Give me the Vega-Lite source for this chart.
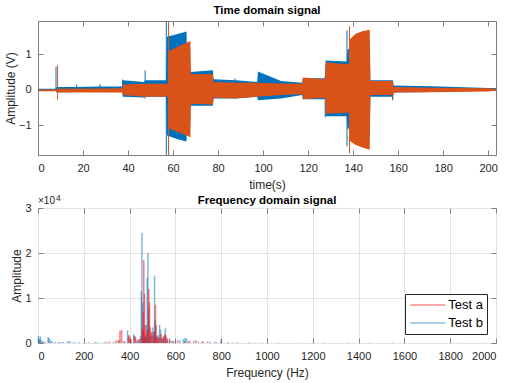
{
  "$schema": "https://vega.github.io/schema/vega-lite/v6.json",
  "padding": {"left": 3, "top": 4, "right": 10, "bottom": 4},
  "spacing": 2,
  "resolve": {"legend": {"color": "independent"}},
  "config": {
    "font": "Liberation Sans",
    "view": {"stroke": "#808080", "strokeWidth": 1},
    "axis": {"domain": false, "grid": false, "labelFontSize": 11, "labelColor": "#262626", "titleFontSize": 12, "titleFontWeight": "normal", "titleColor": "#262626", "tickColor": "#808080", "tickSize": -5, "labelPadding": 12, "titlePadding": 6},
    "axisY": {"titlePadding": 1},
    "title": {"fontSize": 11.5, "fontWeight": "bold", "color": "#000000", "offset": 4, "anchor": "middle"}
  },
  "datasets": {
    "env": [
      {"s": "s1", "t": 0, "hi": 0.03, "lo": -0.01},
      {"s": "s1", "t": 7.8, "hi": 0.03, "lo": -0.01},
      {"s": "s1", "t": 8.1, "hi": 0.08, "lo": -0.07},
      {"s": "s1", "t": 17, "hi": 0.08, "lo": -0.06},
      {"s": "s1", "t": 27, "hi": 0.09, "lo": -0.06},
      {"s": "s1", "t": 37.4, "hi": 0.09, "lo": -0.06},
      {"s": "s1", "t": 37.7, "hi": 0.27, "lo": -0.2},
      {"s": "s1", "t": 47, "hi": 0.22, "lo": -0.22},
      {"s": "s1", "t": 47.7, "hi": 0.27, "lo": -0.2},
      {"s": "s1", "t": 56.9, "hi": 0.27, "lo": -0.2},
      {"s": "s1", "t": 57.3, "hi": 1.5, "lo": -1.3},
      {"s": "s1", "t": 62, "hi": 1.58, "lo": -1.4},
      {"s": "s1", "t": 66, "hi": 1.65, "lo": -1.47},
      {"s": "s1", "t": 66.3, "hi": 0.5, "lo": -0.45},
      {"s": "s1", "t": 77.7, "hi": 0.55, "lo": -0.45},
      {"s": "s1", "t": 78, "hi": 0.3, "lo": -0.25},
      {"s": "s1", "t": 88, "hi": 0.27, "lo": -0.25},
      {"s": "s1", "t": 97.4, "hi": 0.22, "lo": -0.2},
      {"s": "s1", "t": 97.7, "hi": 0.52, "lo": -0.3},
      {"s": "s1", "t": 108, "hi": 0.25, "lo": -0.25},
      {"s": "s1", "t": 117.4, "hi": 0.2, "lo": -0.15},
      {"s": "s1", "t": 117.7, "hi": 0.33, "lo": -0.27},
      {"s": "s1", "t": 127.5, "hi": 0.33, "lo": -0.27},
      {"s": "s1", "t": 127.8, "hi": 0.83, "lo": -0.75},
      {"s": "s1", "t": 137.2, "hi": 0.8, "lo": -0.75},
      {"s": "s1", "t": 137.5, "hi": 1.15, "lo": -1.1},
      {"s": "s1", "t": 147.4, "hi": 1.2, "lo": -1.2},
      {"s": "s1", "t": 147.7, "hi": 0.27, "lo": -0.2},
      {"s": "s1", "t": 157.7, "hi": 0.27, "lo": -0.2},
      {"s": "s1", "t": 158, "hi": 0.12, "lo": -0.08},
      {"s": "s1", "t": 175, "hi": 0.1, "lo": -0.06},
      {"s": "s1", "t": 200, "hi": 0.05, "lo": -0.03},
      {"s": "s1", "t": 203.5, "hi": 0.05, "lo": -0.03},
      {"s": "s2", "t": 0, "hi": 0.01, "lo": -0.04},
      {"s": "s2", "t": 8.5, "hi": 0.01, "lo": -0.04},
      {"s": "s2", "t": 8.8, "hi": 0.03, "lo": -0.08},
      {"s": "s2", "t": 37.4, "hi": 0.04, "lo": -0.08},
      {"s": "s2", "t": 37.7, "hi": 0.15, "lo": -0.15},
      {"s": "s2", "t": 47, "hi": 0.17, "lo": -0.2},
      {"s": "s2", "t": 57.8, "hi": 0.17, "lo": -0.2},
      {"s": "s2", "t": 58.2, "hi": 1.1, "lo": -1.1},
      {"s": "s2", "t": 63, "hi": 1.25, "lo": -1.22},
      {"s": "s2", "t": 67.7, "hi": 1.38, "lo": -1.35},
      {"s": "s2", "t": 68, "hi": 0.44, "lo": -0.4},
      {"s": "s2", "t": 77.7, "hi": 0.45, "lo": -0.42},
      {"s": "s2", "t": 78, "hi": 0.22, "lo": -0.23},
      {"s": "s2", "t": 88, "hi": 0.2, "lo": -0.25},
      {"s": "s2", "t": 97, "hi": 0.2, "lo": -0.2},
      {"s": "s2", "t": 108, "hi": 0.18, "lo": -0.15},
      {"s": "s2", "t": 117.4, "hi": 0.17, "lo": -0.13},
      {"s": "s2", "t": 117.7, "hi": 0.35, "lo": -0.27},
      {"s": "s2", "t": 127.5, "hi": 0.3, "lo": -0.23},
      {"s": "s2", "t": 127.8, "hi": 0.77, "lo": -0.68},
      {"s": "s2", "t": 138.2, "hi": 0.72, "lo": -0.65},
      {"s": "s2", "t": 138.6, "hi": 1.43, "lo": -1.45},
      {"s": "s2", "t": 141, "hi": 1.58, "lo": -1.56},
      {"s": "s2", "t": 144, "hi": 1.66, "lo": -1.64},
      {"s": "s2", "t": 147.4, "hi": 1.7, "lo": -1.7},
      {"s": "s2", "t": 147.7, "hi": 0.25, "lo": -0.15},
      {"s": "s2", "t": 157.7, "hi": 0.25, "lo": -0.15},
      {"s": "s2", "t": 158, "hi": 0.08, "lo": -0.08},
      {"s": "s2", "t": 175, "hi": 0.06, "lo": -0.07},
      {"s": "s2", "t": 200, "hi": 0.04, "lo": -0.05},
      {"s": "s2", "t": 203.5, "hi": 0.03, "lo": -0.02}
    ],
    "spikes": [
      {"s": "s1", "t": 8.0, "hi": 0.65, "lo": 0},
      {"s": "s1", "t": 17.2, "hi": 0.15, "lo": 0},
      {"s": "s1", "t": 27.5, "hi": 0.16, "lo": 0},
      {"s": "s1", "t": 37.6, "hi": 0.29, "lo": 0},
      {"s": "s1", "t": 47.6, "hi": 0.55, "lo": -0.25},
      {"s": "s1", "t": 57.0, "hi": 1.95, "lo": -1.85},
      {"s": "s1", "t": 87.5, "hi": 0.32, "lo": 0},
      {"s": "s1", "t": 127.6, "hi": 0.4, "lo": -0.78},
      {"s": "s1", "t": 137.3, "hi": 1.68, "lo": -1.6},
      {"s": "s1", "t": 157.5, "hi": 0.1, "lo": -0.3},
      {"s": "s2", "t": 8.7, "hi": 0.7, "lo": -0.28},
      {"s": "s2", "t": 58.0, "hi": 1.95, "lo": -1.85},
      {"s": "s2", "t": 138.4, "hi": 1.8, "lo": -1.8},
      {"s": "s2", "t": 157.7, "hi": 0.1, "lo": -0.27}
    ],
    "spec": [
      {"series": "Test b", "f": 2, "amp": 1600}, {"series": "Test b", "f": 6, "amp": 900}, {"series": "Test b", "f": 10, "amp": 1500},
      {"series": "Test b", "f": 14, "amp": 700}, {"series": "Test b", "f": 20, "amp": 400}, {"series": "Test b", "f": 30, "amp": 300},
      {"series": "Test b", "f": 44, "amp": 1300}, {"series": "Test b", "f": 48, "amp": 1100}, {"series": "Test b", "f": 52, "amp": 700},
      {"series": "Test b", "f": 60, "amp": 400}, {"series": "Test b", "f": 75, "amp": 300}, {"series": "Test b", "f": 90, "amp": 250},
      {"series": "Test b", "f": 110, "amp": 200}, {"series": "Test b", "f": 130, "amp": 450}, {"series": "Test b", "f": 138, "amp": 400},
      {"series": "Test b", "f": 150, "amp": 200}, {"series": "Test b", "f": 180, "amp": 150}, {"series": "Test b", "f": 220, "amp": 150},
      {"series": "Test b", "f": 260, "amp": 200}, {"series": "Test b", "f": 300, "amp": 250}, {"series": "Test b", "f": 330, "amp": 300},
      {"series": "Test b", "f": 355, "amp": 500}, {"series": "Test b", "f": 372, "amp": 400}, {"series": "Test b", "f": 391, "amp": 2800},
      {"series": "Test b", "f": 396, "amp": 1300}, {"series": "Test b", "f": 404, "amp": 600}, {"series": "Test b", "f": 418, "amp": 2000},
      {"series": "Test b", "f": 424, "amp": 1500}, {"series": "Test b", "f": 432, "amp": 500}, {"series": "Test b", "f": 442, "amp": 800},
      {"series": "Test b", "f": 448, "amp": 1500}, {"series": "Test b", "f": 451, "amp": 11500}, {"series": "Test b", "f": 454, "amp": 24500},
      {"series": "Test b", "f": 457, "amp": 9000}, {"series": "Test b", "f": 461, "amp": 2500}, {"series": "Test b", "f": 466, "amp": 1500},
      {"series": "Test b", "f": 470, "amp": 1200}, {"series": "Test b", "f": 474, "amp": 4000}, {"series": "Test b", "f": 477, "amp": 14500},
      {"series": "Test b", "f": 480, "amp": 20000}, {"series": "Test b", "f": 483, "amp": 7500}, {"series": "Test b", "f": 487, "amp": 2500},
      {"series": "Test b", "f": 492, "amp": 1500}, {"series": "Test b", "f": 497, "amp": 2000}, {"series": "Test b", "f": 501, "amp": 3500},
      {"series": "Test b", "f": 505, "amp": 2500}, {"series": "Test b", "f": 509, "amp": 15000}, {"series": "Test b", "f": 512, "amp": 5000},
      {"series": "Test b", "f": 516, "amp": 1500}, {"series": "Test b", "f": 521, "amp": 1200}, {"series": "Test b", "f": 526, "amp": 1800},
      {"series": "Test b", "f": 531, "amp": 4000}, {"series": "Test b", "f": 535, "amp": 3000}, {"series": "Test b", "f": 540, "amp": 1200},
      {"series": "Test b", "f": 546, "amp": 1000}, {"series": "Test b", "f": 551, "amp": 1500}, {"series": "Test b", "f": 556, "amp": 3300},
      {"series": "Test b", "f": 560, "amp": 1200}, {"series": "Test b", "f": 566, "amp": 700}, {"series": "Test b", "f": 575, "amp": 600},
      {"series": "Test b", "f": 585, "amp": 500}, {"series": "Test b", "f": 600, "amp": 500}, {"series": "Test b", "f": 620, "amp": 600},
      {"series": "Test b", "f": 635, "amp": 900}, {"series": "Test b", "f": 642, "amp": 1100}, {"series": "Test b", "f": 648, "amp": 1000},
      {"series": "Test b", "f": 656, "amp": 500}, {"series": "Test b", "f": 680, "amp": 500}, {"series": "Test b", "f": 700, "amp": 300},
      {"series": "Test b", "f": 720, "amp": 400}, {"series": "Test b", "f": 750, "amp": 250}, {"series": "Test b", "f": 772, "amp": 300},
      {"series": "Test b", "f": 800, "amp": 800}, {"series": "Test b", "f": 830, "amp": 200}, {"series": "Test b", "f": 870, "amp": 150},
      {"series": "Test b", "f": 920, "amp": 150}, {"series": "Test b", "f": 980, "amp": 100}, {"series": "Test b", "f": 1050, "amp": 120},
      {"series": "Test b", "f": 1150, "amp": 100}, {"series": "Test b", "f": 1250, "amp": 100}, {"series": "Test b", "f": 1350, "amp": 100},
      {"series": "Test b", "f": 1450, "amp": 100}, {"series": "Test b", "f": 1550, "amp": 100}, {"series": "Test b", "f": 1650, "amp": 80},
      {"series": "Test b", "f": 1750, "amp": 80}, {"series": "Test b", "f": 1850, "amp": 80}, {"series": "Test b", "f": 1950, "amp": 80},
      {"series": "Test a", "f": 3, "amp": 300}, {"series": "Test a", "f": 25, "amp": 200}, {"series": "Test a", "f": 60, "amp": 150},
      {"series": "Test a", "f": 100, "amp": 200}, {"series": "Test a", "f": 160, "amp": 150}, {"series": "Test a", "f": 250, "amp": 250},
      {"series": "Test a", "f": 290, "amp": 200}, {"series": "Test a", "f": 312, "amp": 350}, {"series": "Test a", "f": 340, "amp": 600},
      {"series": "Test a", "f": 350, "amp": 700}, {"series": "Test a", "f": 358, "amp": 2700}, {"series": "Test a", "f": 365, "amp": 2900},
      {"series": "Test a", "f": 378, "amp": 400}, {"series": "Test a", "f": 395, "amp": 1800}, {"series": "Test a", "f": 400, "amp": 1600},
      {"series": "Test a", "f": 406, "amp": 900}, {"series": "Test a", "f": 420, "amp": 1500}, {"series": "Test a", "f": 427, "amp": 1200},
      {"series": "Test a", "f": 436, "amp": 800}, {"series": "Test a", "f": 444, "amp": 1000}, {"series": "Test a", "f": 455, "amp": 3000},
      {"series": "Test a", "f": 459, "amp": 7000}, {"series": "Test a", "f": 462, "amp": 18500}, {"series": "Test a", "f": 465, "amp": 11000},
      {"series": "Test a", "f": 468, "amp": 4000}, {"series": "Test a", "f": 472, "amp": 2000}, {"series": "Test a", "f": 478, "amp": 3000},
      {"series": "Test a", "f": 484, "amp": 12000}, {"series": "Test a", "f": 487, "amp": 9000}, {"series": "Test a", "f": 491, "amp": 3500},
      {"series": "Test a", "f": 496, "amp": 2500}, {"series": "Test a", "f": 503, "amp": 1500}, {"series": "Test a", "f": 508, "amp": 2500},
      {"series": "Test a", "f": 513, "amp": 8500}, {"series": "Test a", "f": 516, "amp": 4000}, {"series": "Test a", "f": 521, "amp": 1500},
      {"series": "Test a", "f": 525, "amp": 1000}, {"series": "Test a", "f": 531, "amp": 1200}, {"series": "Test a", "f": 538, "amp": 2000},
      {"series": "Test a", "f": 542, "amp": 1000}, {"series": "Test a", "f": 548, "amp": 1500}, {"series": "Test a", "f": 553, "amp": 2000},
      {"series": "Test a", "f": 558, "amp": 1800}, {"series": "Test a", "f": 565, "amp": 1000}, {"series": "Test a", "f": 575, "amp": 1000},
      {"series": "Test a", "f": 590, "amp": 500}, {"series": "Test a", "f": 610, "amp": 600}, {"series": "Test a", "f": 640, "amp": 400},
      {"series": "Test a", "f": 662, "amp": 500}, {"series": "Test a", "f": 690, "amp": 600}, {"series": "Test a", "f": 715, "amp": 300},
      {"series": "Test a", "f": 740, "amp": 300}, {"series": "Test a", "f": 780, "amp": 150}, {"series": "Test a", "f": 800, "amp": 200},
      {"series": "Test a", "f": 850, "amp": 100}, {"series": "Test a", "f": 950, "amp": 80}, {"series": "Test a", "f": 1100, "amp": 80}
    ]
  },
  "vconcat": [
    {
      "width": 458,
      "height": 134,
      "title": {"text": "Time domain signal"},
      "layer": [
        {
          "data": {"name": "env"},
          "transform": [{"filter": "datum.s == 's1'"}],
          "mark": {"type": "area", "color": "#0072BD", "opacity": 1},
          "encoding": {
            "x": {"field": "t", "type": "quantitative", "scale": {"domain": [0, 203.5], "nice": false, "zero": false}, "axis": {"values": [0, 20, 40, 60, 80, 100, 120, 140, 160, 180, 200], "title": "time(s)"}},
            "y": {"field": "hi", "type": "quantitative", "scale": {"domain": [-1.85, 1.95], "nice": false, "zero": false}, "axis": {"values": [-1, 0, 1], "title": "Amplitude (V)"}},
            "y2": {"field": "lo"}
          }
        },
        {
          "data": {"name": "spikes"},
          "transform": [{"filter": "datum.s == 's1'"}],
          "mark": {"type": "rule", "color": "#0072BD", "strokeWidth": 1},
          "encoding": {
            "x": {"field": "t", "type": "quantitative", "axis": null},
            "y": {"field": "hi", "type": "quantitative", "axis": null},
            "y2": {"field": "lo"}
          }
        },
        {
          "data": {"name": "env"},
          "transform": [{"filter": "datum.s == 's2'"}],
          "mark": {"type": "area", "color": "#D95319", "opacity": 1},
          "encoding": {
            "x": {"field": "t", "type": "quantitative", "axis": null},
            "y": {"field": "hi", "type": "quantitative", "axis": null},
            "y2": {"field": "lo"}
          }
        },
        {
          "data": {"name": "spikes"},
          "transform": [{"filter": "datum.s == 's2'"}],
          "mark": {"type": "rule", "color": "#D95319", "strokeWidth": 1},
          "encoding": {
            "x": {"field": "t", "type": "quantitative", "axis": {"orient": "top", "labels": false, "title": null, "values": [0, 20, 40, 60, 80, 100, 120, 140, 160, 180, 200]}},
            "y": {"field": "hi", "type": "quantitative", "axis": {"orient": "right", "labels": false, "title": null, "values": [-1, 0, 1]}},
            "y2": {"field": "lo"}
          }
        }
      ],
      "resolve": {"axis": {"x": "independent", "y": "independent"}}
    },
    {
      "width": 458,
      "height": 135,
      "title": {"text": "Frequency domain signal", "offset": -12},
      "layer": [
        {
          "data": {"name": "spec"},
          "mark": {"type": "rule", "strokeWidth": 1.5, "opacity": 0.5},
          "encoding": {
            "x": {"field": "f", "type": "quantitative", "scale": {"domain": [0, 2000], "nice": false}, "axis": {"values": [0, 200, 400, 600, 800, 1000, 1200, 1400, 1600, 1800, 2000], "format": "d", "title": "Frequency (Hz)", "grid": true, "gridColor": "#e3e3e3"}},
            "y": {"field": "amp", "type": "quantitative", "scale": {"domain": [0, 30000], "nice": false}, "axis": {"values": [0, 10000, 20000, 30000], "labelExpr": "datum.value / 10000", "title": "Amplitude", "grid": true, "gridColor": "#e3e3e3"}},
            "y2": {"datum": 0},
            "color": {"field": "series", "type": "nominal", "scale": {"domain": ["Test a", "Test b"], "range": ["#FF0000", "#0072BD"]},
              "legend": {"orient": "bottom-right", "offset": 9, "title": null, "symbolType": "M-3,0H3", "symbolSize": 136, "symbolOffset": 11.7, "symbolStrokeWidth": 1.5, "symbolOpacity": 0.45, "labelFontSize": 13, "labelColor": "#000000", "labelOffset": 13.5, "strokeColor": "#262626", "fillColor": "#ffffff", "padding": 4, "rowPadding": 4}}
          }
        },
        {
          "data": {"values": [{"label": "×10"}]},
          "mark": {"type": "text", "align": "left", "baseline": "bottom", "dy": -2, "fontSize": 10, "color": "#262626"},
          "encoding": {
            "x": {"datum": 0, "type": "quantitative", "axis": null},
            "y": {"datum": 30000, "type": "quantitative", "axis": null},
            "text": {"field": "label"}
          }
        },
        {
          "data": {"values": [{"label": "4"}]},
          "mark": {"type": "text", "align": "left", "baseline": "bottom", "dx": 18, "dy": -5, "fontSize": 8.5, "color": "#262626"},
          "encoding": {
            "x": {"datum": 0, "type": "quantitative", "axis": {"orient": "top", "labels": false, "title": null, "grid": false, "values": [0, 200, 400, 600, 800, 1000, 1200, 1400, 1600, 1800, 2000]}},
            "y": {"datum": 30000, "type": "quantitative", "axis": {"orient": "right", "labels": false, "title": null, "grid": false, "values": [0, 10000, 20000, 30000]}},
            "text": {"field": "label"}
          }
        }
      ],
      "resolve": {"axis": {"x": "independent", "y": "independent"}}
    }
  ]
}
